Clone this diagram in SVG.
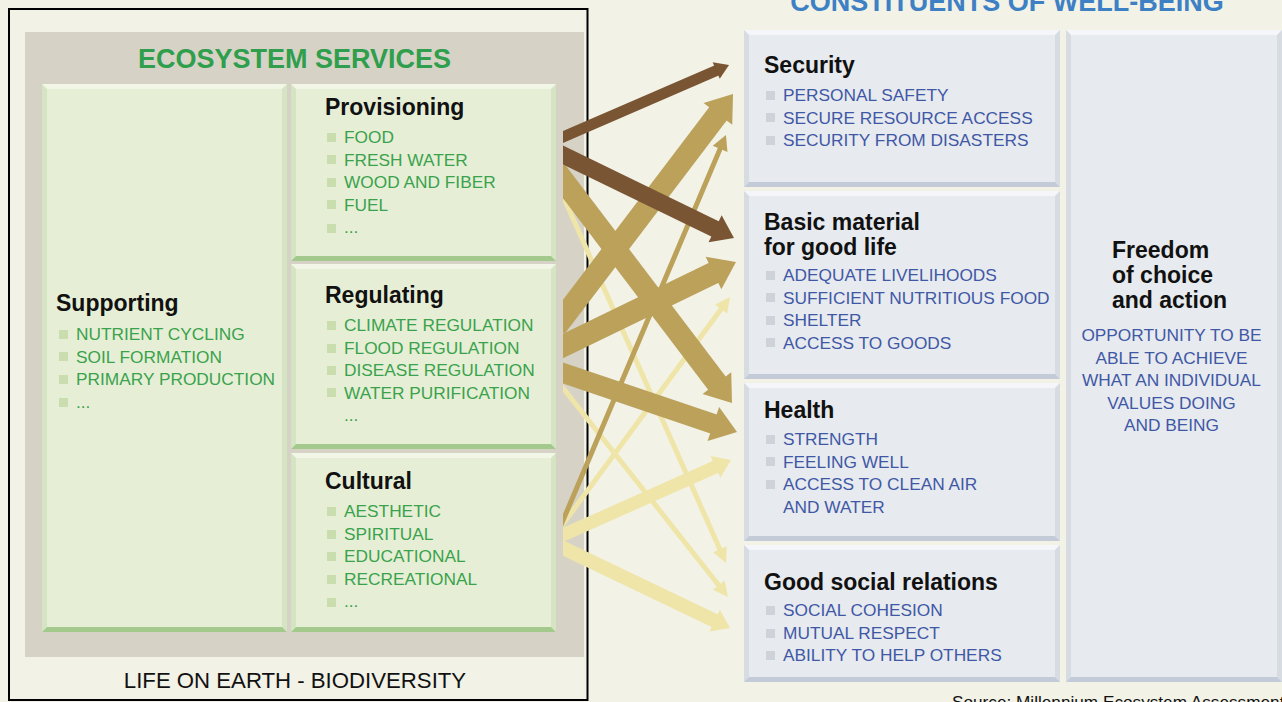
<svg xmlns="http://www.w3.org/2000/svg" width="1282" height="702" viewBox="0 0 1282 702">
<style>
.t{font-family:"Liberation Sans",Arial,sans-serif;}
.h{font-family:"Liberation Sans",Arial,sans-serif;font-weight:bold;font-size:23px;fill:#111;}
.gi{font-family:"Liberation Sans",Arial,sans-serif;font-size:17.3px;fill:#3aa24c;}
.bi{font-family:"Liberation Sans",Arial,sans-serif;font-size:17.3px;fill:#3f58a6;}
.gb{fill:#c9ddaf;}
.bb{fill:#cfd3d9;}
.gbase{fill:#e6efd6;} .gtop{fill:#f1f6e7;} .gside{fill:#d5e5c3;} .gbot{fill:#a4c98d;}
.bbase{fill:#e7eaee;} .btop{fill:#f4f6f9;} .bside{fill:#d7dce3;} .bbot{fill:#c3cbd8;}
.ab{stroke:#7a5533;fill:none;} .at{stroke:#bba15a;fill:none;} .al{stroke:#efe5a8;fill:none;}
</style>
<defs>
<clipPath id="arrowClip"><rect x="563" y="0" width="719" height="702"/></clipPath>
<marker id="mBrownS" markerUnits="userSpaceOnUse" orient="auto" refX="0" refY="0" markerWidth="30" markerHeight="30" overflow="visible"><path d="M-1,-9 L13,0 L-1,9 z" fill="#7a5533"/></marker>
<marker id="mBrownL" markerUnits="userSpaceOnUse" orient="auto" refX="0" refY="0" markerWidth="40" markerHeight="40" overflow="visible"><path d="M-1,-15 L20,0 L-1,15 z" fill="#7a5533"/></marker>
<marker id="mTanL" markerUnits="userSpaceOnUse" orient="auto" refX="0" refY="0" markerWidth="40" markerHeight="40" overflow="visible"><path d="M-1,-18 L24,0 L-1,18 z" fill="#bba15a"/></marker>
<marker id="mTanT" markerUnits="userSpaceOnUse" orient="auto" refX="0" refY="0" markerWidth="30" markerHeight="30" overflow="visible"><path d="M-1,-8 L14,0 L-1,8 z" fill="#bba15a"/></marker>
<marker id="mLightT" markerUnits="userSpaceOnUse" orient="auto" refX="0" refY="0" markerWidth="30" markerHeight="30" overflow="visible"><path d="M-1,-7.5 L14,0 L-1,7.5 z" fill="#efe5a8"/></marker>
<marker id="mLightM" markerUnits="userSpaceOnUse" orient="auto" refX="0" refY="0" markerWidth="30" markerHeight="30" overflow="visible"><path d="M-1,-12 L16,0 L-1,12 z" fill="#efe5a8"/></marker>
</defs>
<rect x="0" y="0" width="1282" height="702" fill="#f2f2e7"/>

<!-- left frame -->
<g id="ecosystem-frame">
<rect x="25" y="32" width="559" height="625" fill="#d6d3c6"/>
<text class="t" x="294.5" y="68" text-anchor="middle" font-size="27" font-weight="bold" fill="#2f9e4d">ECOSYSTEM SERVICES</text>
<text class="t" x="295" y="688" text-anchor="middle" font-size="22.2" fill="#111">LIFE ON EARTH - BIODIVERSITY</text>
</g>

<g id="supporting">
<rect class="gbase" x="42" y="84" width="245" height="548"/>
<polygon class="gtop" points="42,84 287,84 282,89 47,89"/>
<polygon class="gside" points="42,84 47,89 47,627 42,632"/>
<polygon class="gside" points="287,84 287,632 282,627 282,89"/>
<polygon class="gbot" points="42,632 287,632 282,627 47,627"/>
<text class="h" x="56" y="311">Supporting</text>
<rect class="gb" x="59" y="330" width="9" height="9"/><text class="gi" x="76" y="340">NUTRIENT CYCLING</text>
<rect class="gb" x="59" y="352" width="9" height="9"/><text class="gi" x="76" y="362.5">SOIL FORMATION</text>
<rect class="gb" x="59" y="375" width="9" height="9"/><text class="gi" x="76" y="385">PRIMARY PRODUCTION</text>
<rect class="gb" x="59" y="398" width="9" height="9"/><text class="gi" x="76" y="407.5">...</text>
</g>

<g id="provisioning">
<rect class="gbase" x="291" y="84" width="265" height="177"/>
<polygon class="gtop" points="291,84 556,84 551,89 296,89"/>
<polygon class="gside" points="291,84 296,89 296,256 291,261"/>
<polygon class="gside" points="556,84 556,261 551,256 551,89"/>
<polygon class="gbot" points="291,261 556,261 551,256 296,256"/>
<text class="h" x="325" y="115">Provisioning</text>
<rect class="gb" x="327" y="133" width="9" height="9"/><text class="gi" x="344" y="143">FOOD</text>
<rect class="gb" x="327" y="155" width="9" height="9"/><text class="gi" x="344" y="165.5">FRESH WATER</text>
<rect class="gb" x="327" y="178" width="9" height="9"/><text class="gi" x="344" y="188">WOOD AND FIBER</text>
<rect class="gb" x="327" y="200" width="9" height="9"/><text class="gi" x="344" y="210.5">FUEL</text>
<rect class="gb" x="327" y="224" width="9" height="9"/><text class="gi" x="344" y="233">...</text>
</g>

<g id="regulating">
<rect class="gbase" x="291" y="264" width="265" height="185"/>
<polygon class="gtop" points="291,264 556,264 551,269 296,269"/>
<polygon class="gside" points="291,264 296,269 296,444 291,449"/>
<polygon class="gside" points="556,264 556,449 551,444 551,269"/>
<polygon class="gbot" points="291,449 556,449 551,444 296,444"/>
<text class="h" x="325" y="303">Regulating</text>
<rect class="gb" x="327" y="321" width="9" height="9"/><text class="gi" x="344" y="331">CLIMATE REGULATION</text>
<rect class="gb" x="327" y="344" width="9" height="9"/><text class="gi" x="344" y="353.5">FLOOD REGULATION</text>
<rect class="gb" x="327" y="366" width="9" height="9"/><text class="gi" x="344" y="376">DISEASE REGULATION</text>
<rect class="gb" x="327" y="388" width="9" height="9"/><text class="gi" x="344" y="398.5">WATER PURIFICATION</text>
<text class="gi" x="344" y="421">...</text>
</g>

<g id="cultural">
<rect class="gbase" x="291" y="453" width="265" height="179"/>
<polygon class="gtop" points="291,453 556,453 551,458 296,458"/>
<polygon class="gside" points="291,453 296,458 296,627 291,632"/>
<polygon class="gside" points="556,453 556,632 551,627 551,458"/>
<polygon class="gbot" points="291,632 556,632 551,627 296,627"/>
<text class="h" x="325" y="489">Cultural</text>
<rect class="gb" x="327" y="507" width="9" height="9"/><text class="gi" x="344" y="517">AESTHETIC</text>
<rect class="gb" x="327" y="530" width="9" height="9"/><text class="gi" x="344" y="539.5">SPIRITUAL</text>
<rect class="gb" x="327" y="552" width="9" height="9"/><text class="gi" x="344" y="562">EDUCATIONAL</text>
<rect class="gb" x="327" y="575" width="9" height="9"/><text class="gi" x="344" y="584.5">RECREATIONAL</text>
<rect class="gb" x="327" y="598" width="9" height="9"/><text class="gi" x="344" y="607">...</text>
</g>

<rect x="9" y="9" width="578.5" height="691" fill="none" stroke="#000" stroke-width="2"/>

<!-- right side -->
<text class="t" x="1007" y="11" text-anchor="middle" font-size="27" font-weight="bold" fill="#3d80c3">CONSTITUENTS OF WELL-BEING</text>

<g id="security">
<rect class="bbase" x="744" y="30" width="316" height="157"/>
<polygon class="btop" points="744,30 1060,30 1055,35 749,35"/>
<polygon class="bside" points="744,30 749,35 749,182 744,187"/>
<polygon class="bside" points="1060,30 1060,187 1055,182 1055,35"/>
<polygon class="bbot" points="744,187 1060,187 1055,182 749,182"/>
<text class="h" x="764" y="73">Security</text>
<rect class="bb" x="766" y="91" width="9" height="9"/><text class="bi" x="783" y="101">PERSONAL SAFETY</text>
<rect class="bb" x="766" y="113" width="9" height="9"/><text class="bi" x="783" y="123.5">SECURE RESOURCE ACCESS</text>
<rect class="bb" x="766" y="136" width="9" height="9"/><text class="bi" x="783" y="146">SECURITY FROM DISASTERS</text>
</g>

<g id="basic-material">
<rect class="bbase" x="744" y="191" width="316" height="188"/>
<polygon class="btop" points="744,191 1060,191 1055,196 749,196"/>
<polygon class="bside" points="744,191 749,196 749,374 744,379"/>
<polygon class="bside" points="1060,191 1060,379 1055,374 1055,196"/>
<polygon class="bbot" points="744,379 1060,379 1055,374 749,374"/>
<text class="h" x="764" y="230">Basic material</text>
<text class="h" x="764" y="255">for good life</text>
<rect class="bb" x="766" y="271" width="9" height="9"/><text class="bi" x="783" y="281">ADEQUATE LIVELIHOODS</text>
<rect class="bb" x="766" y="293" width="9" height="9"/><text class="bi" x="783" y="303.5">SUFFICIENT NUTRITIOUS FOOD</text>
<rect class="bb" x="766" y="316" width="9" height="9"/><text class="bi" x="783" y="326">SHELTER</text>
<rect class="bb" x="766" y="338" width="9" height="9"/><text class="bi" x="783" y="348.5">ACCESS TO GOODS</text>
</g>

<g id="health">
<rect class="bbase" x="744" y="383" width="316" height="158"/>
<polygon class="btop" points="744,383 1060,383 1055,388 749,388"/>
<polygon class="bside" points="744,383 749,388 749,536 744,541"/>
<polygon class="bside" points="1060,383 1060,541 1055,536 1055,388"/>
<polygon class="bbot" points="744,541 1060,541 1055,536 749,536"/>
<text class="h" x="764" y="418">Health</text>
<rect class="bb" x="766" y="435" width="9" height="9"/><text class="bi" x="783" y="445">STRENGTH</text>
<rect class="bb" x="766" y="457" width="9" height="9"/><text class="bi" x="783" y="467.5">FEELING WELL</text>
<rect class="bb" x="766" y="480" width="9" height="9"/><text class="bi" x="783" y="490">ACCESS TO CLEAN AIR</text>
<text class="bi" x="783" y="512.5">AND WATER</text>
</g>

<g id="social-relations">
<rect class="bbase" x="744" y="545" width="316" height="137"/>
<polygon class="btop" points="744,545 1060,545 1055,550 749,550"/>
<polygon class="bside" points="744,545 749,550 749,677 744,682"/>
<polygon class="bside" points="1060,545 1060,682 1055,677 1055,550"/>
<polygon class="bbot" points="744,682 1060,682 1055,677 749,677"/>
<text class="h" x="764" y="590">Good social relations</text>
<rect class="bb" x="766" y="606" width="9" height="9"/><text class="bi" x="783" y="616">SOCIAL COHESION</text>
<rect class="bb" x="766" y="629" width="9" height="9"/><text class="bi" x="783" y="638.5">MUTUAL RESPECT</text>
<rect class="bb" x="766" y="651" width="9" height="9"/><text class="bi" x="783" y="661">ABILITY TO HELP OTHERS</text>
</g>

<g id="freedom">
<rect class="bbase" x="1066" y="30" width="216" height="652"/>
<polygon class="btop" points="1066,30 1282,30 1277,35 1071,35"/>
<polygon class="bside" points="1066,30 1071,35 1071,677 1066,682"/>
<polygon class="bside" points="1282,30 1282,682 1277,677 1277,35"/>
<polygon class="bbot" points="1066,682 1282,682 1277,677 1071,677"/>
<text class="h" x="1112" y="258">Freedom</text>
<text class="h" x="1112" y="283">of choice</text>
<text class="h" x="1112" y="308">and action</text>
<g text-anchor="middle">
<text class="bi" x="1171.5" y="341">OPPORTUNITY TO BE</text>
<text class="bi" x="1171.5" y="363.5">ABLE TO ACHIEVE</text>
<text class="bi" x="1171.5" y="386">WHAT AN INDIVIDUAL</text>
<text class="bi" x="1171.5" y="408.5">VALUES DOING</text>
<text class="bi" x="1171.5" y="431">AND BEING</text>
</g>
</g>

<text class="t" x="952" y="708" font-size="17.2" fill="#111">Source: Millennium Ecosystem Assessment</text>

<!-- connectors -->
<g id="connectors" clip-path="url(#arrowClip)">
<line class="al" stroke-width="5" x1="556" y1="180.2" x2="720.3" y2="550.2" marker-end="url(#mLightT)"/>
<line class="al" stroke-width="5" x1="556" y1="379.1" x2="719.3" y2="586" marker-end="url(#mLightT)"/>
<line class="al" stroke-width="5" x1="556" y1="533.5" x2="721.7" y2="308.3" marker-end="url(#mLightT)"/>
<line class="al" stroke-width="13" x1="556" y1="538.1" x2="716.4" y2="466.5" marker-end="url(#mLightM)"/>
<line class="al" stroke-width="14" x1="556" y1="544.6" x2="715.6" y2="621.1" marker-end="url(#mLightM)"/>
<line class="at" stroke-width="5" x1="556" y1="537" x2="720.5" y2="147.9" marker-end="url(#mTanT)"/>
<line class="at" stroke-width="22" x1="556" y1="170.8" x2="717.5" y2="383.9" marker-end="url(#mTanL)"/>
<line class="at" stroke-width="22" x1="556" y1="327.2" x2="718.5" y2="113.1" marker-end="url(#mTanL)"/>
<line class="at" stroke-width="22" x1="556" y1="349.4" x2="714.4" y2="272.5" marker-end="url(#mTanL)"/>
<line class="at" stroke-width="20" x1="556" y1="370.6" x2="714.3" y2="424.3" marker-end="url(#mTanL)"/>
<line class="ab" stroke-width="11" x1="556" y1="140" x2="717.1" y2="70.2" marker-end="url(#mBrownS)"/>
<line class="ab" stroke-width="17" x1="556" y1="151.6" x2="716" y2="229.3" marker-end="url(#mBrownL)"/>
</g>
</svg>
